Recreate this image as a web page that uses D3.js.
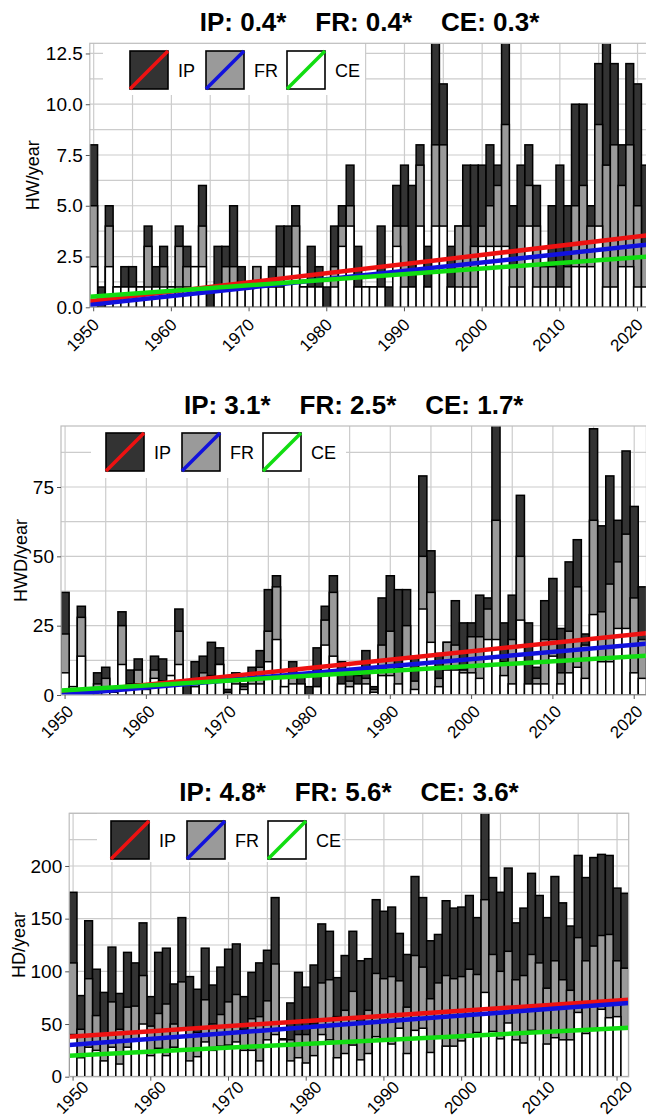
<!DOCTYPE html>
<head>
    <style>
        body { margin: 0; background: #fff; }
        svg { display: block; font-family: "Liberation Sans", Arial, sans-serif; }
        .grid line { stroke: #cccccc; stroke-width: 1.2; }
        .bar { stroke: #000; stroke-width: 1.5; }
        .title { font-weight: bold; font-size: 26px; white-space: pre; }
        .yax .tick text { font-size: 19px; fill: #000; }
        .xax .tick text { font-size: 17px; fill: #000; }
    </style>
</head>
<body>
    <script src="https://d3js.org/d3.v7.min.js"></script>
    <script>
        const w = 646, h = 1119;
        const years = d3.range(1950, 2022);
        const xTickYears = [1950, 1960, 1970, 1980, 1990, 2000, 2010, 2020];
        const series = ['IP', 'FR', 'CE'];
        const fills = ['#333333', '#9a9a9a', '#ffffff'];
        const lineColors = ['#ee1111', '#1111dd', '#11dd11'];

        // heat waves per year
        const hwIP = [8,1,5,1,2,2,1,4,2,3, 1,4,3,2,6,1,3,3,5,2, 1,2,1,2,4,4,5,1,3,2,
                      1,4,5,7,3,1,1,4,1,6, 7,6,8,3,14,11,3,4,7,7, 7,8,7,14,5,7,8,6,2,5,
                      7,5,10,10,5,12,14,12,8,12, 11,7];
        const hwFR = [5,0,4,1,1,1,1,3,1,2, 1,3,2,1,4,0,1,2,2,1, 0,2,1,1,2,2,4,1,1,1,
                      0,2,4,5,1,1,0,1,0,4, 4,1,7,1,8,8,1,4,4,3, 4,5,6,9,2,4,6,4,2,2,
                      1,2,5,6,4,9,7,8,6,8, 5,3];
        const hwCE = [2,0,2,1,1,1,1,1,1,1, 1,1,1,2,2,0,1,1,1,1, 1,1,1,1,1,2,2,1,1,1,
                      0,1,3,4,1,1,1,1,0,3, 1,1,4,1,4,4,1,1,1,1, 3,3,3,3,1,1,4,1,1,1,
                      1,1,2,2,2,4,1,1,2,2, 1,1];

        // heat wave days per year
        const hwdIP = [37,3,32,2,8,10,2,30,9,13, 3,14,13,7,31,4,12,14,19,17, 2,8,4,10,16,38,43,3,12,7,
                       3,17,32,43,12,9,7,16,3,35, 43,38,38,14,79,52,15,19,34,26, 26,36,35,98,26,36,72,26,10,34,
                       42,24,48,56,22,96,61,79,63,88, 68,39];
        const hwdFR = [22,2,28,0,4,6,1,25,4,9, 2,9,5,6,23,0,4,8,7,11, 1,6,3,6,10,23,39,2,7,4,
                       0,3,27,37,4,5,3,6,2,18, 23,10,25,5,50,37,6,19,18,9, 21,21,31,63,12,20,50,4,6,20,
                       20,8,23,39,18,63,30,40,48,58, 35,20];
        const hwdCE = [8,3,14,1,2,2,1,11,2,4, 2,6,5,7,11,0,3,6,6,11, 0,4,2,4,4,12,20,3,4,4,
                       0,3,18,14,4,3,4,4,1,7, 7,4,13,2,31,19,3,9,9,8, 8,6,20,20,7,4,27,4,4,4,
                       14,4,8,10,6,29,12,12,24,24, 8,6];

        // hot days per year
        const hdIP = [175,77,148,102,80,123,79,118,108,146, 76,118,122,88,151,95,83,122,87,104,
                      121,126,76,99,108,120,170,36,70,99, 85,106,145,138,94,115,138,110,112,168,
                      157,161,136,116,190,170,129,135,167,160, 161,172,151,255,189,175,198,146,160,193,
                      172,151,190,165,143,210,189,208,211,210, 179,174];
        const hdFR = [108,45,93,58,40,71,45,66,67,96, 48,60,69,50,90,46,42,73,50,59,
                      71,78,45,55,57,72,107,30,35,40, 40,50,89,92,57,63,81,52,63,98,
                      93,95,91,66,115,104,74,89,96,93, 95,102,97,168,116,100,119,92,96,116,
                      108,84,110,92,82,132,110,124,134,135, 110,103];
        const hdCE = [40,18,28,25,15,28,12,28,35,50, 20,27,20,28,45,15,19,33,25,29,
                      30,33,25,25,15,35,40,35,15,18, 13,20,40,35,18,22,30,16,22,38,
                      36,31,46,22,44,46,23,38,29,29, 34,40,42,80,43,36,51,35,32,44,
                      43,31,37,35,35,61,41,44,64,56, 57,45];

        // decadal trends shown in titles, and fitted line ends read at 1950 / 2021
        const trendIP = ['0.4', '3.1', '4.8'];
        const trendFR = ['0.4', '2.5', '5.6'];
        const trendCE = ['0.3', '1.7', '3.6'];
        const hwLine = [[0.3, 3.55], [0.12, 3.1], [0.52, 2.5]];
        const hwdLine = [[0.5, 22.3], [0.0, 18.5], [1.6, 14.2]];
        const hdLine = [[38, 73], [30, 70], [20, 46.5]];

        const panels = [
            {data: [hwIP, hwFR, hwCE], lines: hwLine, ylab: 'HW/year', ymax: 13,
             yticks: [0, 2.5, 5, 7.5, 10, 12.5], fmt: d3.format('.1f'), grid: 1.25,
             left: 89.8, right: 649.2, top: 43.3, bottom: 307.3, labX: 39, titleY: 31,
             leg: [130, 51], legBg: [103, 43, 262, 52], xlab: [-2, 10]},
            {data: [hwdIP, hwdFR, hwdCE], lines: hwdLine, ylab: 'HWD/year', ymax: 97,
             yticks: [0, 25, 50, 75], fmt: d3.format('d'), grid: 12.5,
             left: 61, right: 646.4, top: 426, bottom: 695, labX: 27, titleY: 414,
             leg: [106, 433], legBg: [91, 426, 255, 52], xlab: [1, 9]},
            {data: [hdIP, hdFR, hdCE], lines: hdLine, ylab: 'HD/year', ymax: 250,
             yticks: [0, 50, 100, 150, 200], fmt: d3.format('d'), grid: 25,
             left: 69.2, right: 628.7, top: 813.3, bottom: 1076.7, labX: 25, titleY: 801,
             leg: [111, 821], legBg: [97, 813, 245, 49], xlab: [8, 3]}
        ];

        var svg = d3.select('body')
                    .append('svg')
                    .attr('width', w)
                    .attr('height', h);

        panels.forEach(function(p, k) {
            const x = d3.scaleBand().domain(years).range([p.left, p.right]).padding(0);
            const y = d3.scaleLinear().domain([0, p.ymax]).range([p.bottom, p.top]);
            const g = svg.append('g');

            g.append('clipPath').attr('id', 'clip' + k)
             .append('rect')
             .attr('x', p.left).attr('y', p.top)
             .attr('width', p.right - p.left).attr('height', p.bottom - p.top);

            // grid
            const grid = g.append('g').attr('class', 'grid');
            grid.selectAll('.hg')
                .data(d3.range(0, p.ymax + 0.001, p.grid))
                .enter().append('line')
                .attr('x1', p.left).attr('x2', p.right)
                .attr('y1', d => y(d)).attr('y2', d => y(d));
            grid.selectAll('.vg')
                .data(years.filter(d => d % 5 === 0))
                .enter().append('line')
                .attr('x1', d => x(d) + x.bandwidth() / 2)
                .attr('x2', d => x(d) + x.bandwidth() / 2)
                .attr('y1', p.top).attr('y2', p.bottom);

            // legend background hides the grid
            g.append('rect')
             .attr('x', p.legBg[0]).attr('y', p.legBg[1])
             .attr('width', p.legBg[2]).attr('height', p.legBg[3])
             .attr('fill', '#fff');

            // bars, drawn from 0 and overlapping: IP behind, then FR, then CE
            const plot = g.append('g').attr('clip-path', 'url(#clip' + k + ')');
            p.data.forEach(function(vals, s) {
                plot.append('g').selectAll('rect')
                    .data(vals)
                    .enter().append('rect')
                    .attr('class', 'bar')
                    .attr('fill', fills[s])
                    .attr('x', (d, i) => x(years[i]))
                    .attr('width', x.bandwidth())
                    .attr('y', d => y(d))
                    .attr('height', d => y(0) - y(d));
            });

            // trend lines
            const xl = d3.scaleLinear().domain([1950, 2021])
                         .range([x(1950), x(2021) + x.bandwidth()]);
            p.lines.forEach(function(ends, s) {
                plot.append('line')
                    .attr('x1', xl(1950)).attr('x2', xl(2021))
                    .attr('y1', y(ends[0])).attr('y2', y(ends[1]))
                    .attr('stroke', lineColors[s])
                    .attr('stroke-width', 4.5);
            });

            // frame
            g.append('rect')
             .attr('x', p.left).attr('y', p.top)
             .attr('width', p.right - p.left).attr('height', p.bottom - p.top)
             .attr('fill', 'none').attr('stroke', '#bdbdbd').attr('stroke-width', 1.2);

            // axes
            const yAxis = g.append('g')
                .attr('class', 'yax')
                .attr('transform', 'translate(' + p.left + ',0)')
                .call(d3.axisLeft(y).tickValues(p.yticks).tickFormat(p.fmt).tickSize(4).tickPadding(3));
            yAxis.select('.domain').remove();
            yAxis.selectAll('.tick line').attr('stroke', '#555');

            const xAxis = g.append('g')
                .attr('class', 'xax')
                .attr('transform', 'translate(0,' + p.bottom + ')')
                .call(d3.axisBottom(x).tickValues(xTickYears).tickSize(4));
            xAxis.select('.domain').remove();
            xAxis.selectAll('.tick line').attr('stroke', '#555');
            xAxis.selectAll('.tick text')
                 .attr('text-anchor', 'end')
                 .attr('dy', null)
                 .attr('transform', 'translate(' + p.xlab[0] + ',' + p.xlab[1] + ') rotate(-45)')
                 .attr('y', 0).attr('x', 0)
                 .attr('dominant-baseline', 'hanging');

            g.append('text')
             .attr('transform', 'translate(' + p.labX + ',' + (p.top + p.bottom) / 2 + ') rotate(-90)')
             .attr('text-anchor', 'middle')
             .attr('font-size', 18)
             .text(p.ylab);

            // title
            g.append('text')
             .attr('class', 'title')
             .attr('x', (p.left + p.right) / 2).attr('y', p.titleY)
             .attr('text-anchor', 'middle')
             .text('IP: ' + trendIP[k] + '*    FR: ' + trendFR[k] + '*    CE: ' + trendCE[k] + '*');

            // legend
            const leg = g.append('g');
            [0, 76, 157].forEach(function(off, s) {
                const lx = p.leg[0] + off, ly = p.leg[1];
                leg.append('rect')
                   .attr('x', lx).attr('y', ly).attr('width', 38).attr('height', 38)
                   .attr('fill', fills[s]).attr('stroke', '#000').attr('stroke-width', 1.6);
                leg.append('line')
                   .attr('x1', lx).attr('y1', ly + 38).attr('x2', lx + 38).attr('y2', ly)
                   .attr('stroke', lineColors[s]).attr('stroke-width', 3.5);
                leg.append('text')
                   .attr('x', lx + 48).attr('y', ly + 26)
                   .attr('font-size', 18)
                   .text(series[s]);
            });
        });
    </script>
</body>
